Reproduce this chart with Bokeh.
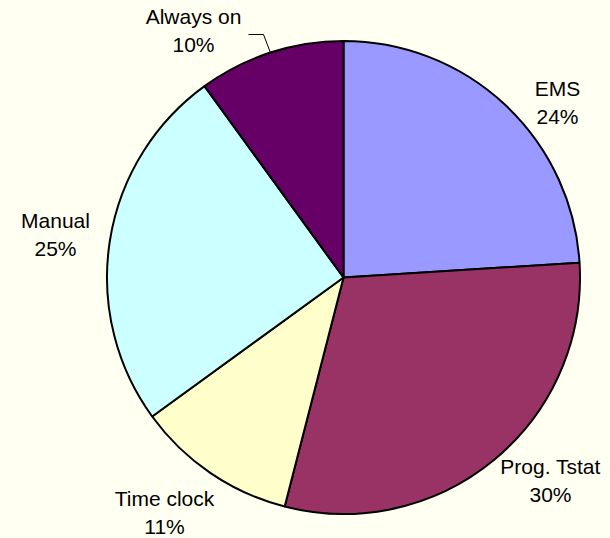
import math

from bokeh.core.properties import value
from bokeh.embed import file_html
from bokeh.models import ColumnDataSource, Range1d
from bokeh.plotting import figure
from bokeh.resources import INLINE

# Share of controls by type, clockwise from 12 o'clock
categories = ["EMS", "Prog. Tstat", "Time clock", "Manual", "Always on"]
shares = [24, 30, 11, 25, 10]
colors = ["#9999FF", "#993366", "#FFFFCC", "#CCFFFF", "#660066"]

# Label anchor points (canvas units, y measured upward)
label_x = [557, 550, 164, 55, 193]
label_y = [436, 58, 26.5, 304, 508]

W, H = 610, 538
CX, CY, R = 343, 261, 236.5

total = float(sum(shares))
starts, ends, mids = [], [], []
acc = 0.0
for s in shares:
    a0 = math.pi / 2 - 2 * math.pi * acc / total
    acc += s
    a1 = math.pi / 2 - 2 * math.pi * acc / total
    starts.append(a0)
    ends.append(a1)
    mids.append((a0 + a1) / 2)

src = ColumnDataSource(dict(
    cat=categories, share=shares, color=colors,
    start=starts, end=ends,
    pct=[f"{s}%" for s in shares],
    lx=label_x,
    ly_name=[y + 14 for y in label_y],
    ly_pct=[y - 14 for y in label_y],
))

p = figure(width=W, height=H, output_backend="svg", toolbar_location=None,
           x_range=Range1d(0, W), y_range=Range1d(0, H),
           min_border=0, outline_line_color=None,
           background_fill_color="#FFFFF2", border_fill_color="#FFFFF2")
p.axis.visible = False
p.grid.visible = False

p.wedge(x=CX, y=CY, radius=R, start_angle="start", end_angle="end",
        direction="clock", fill_color="color", line_color="black",
        line_width=2, source=src)

# Leader line for the small "Always on" slice whose label sits off to the side
i = categories.index("Always on")
ex = CX + R * math.cos(mids[i])
ey = CY + R * math.sin(mids[i])
p.line([label_x[i] + 55, label_x[i] + 70, ex], [504, 504, ey],
       line_color="black", line_width=1)

font = value("Liberation Sans")
p.text(x="lx", y="ly_name", text="cat", source=src, text_font=font,
       text_font_size="21px", text_align="center", text_baseline="alphabetic",
       text_color="black")
p.text(x="lx", y="ly_pct", text="pct", source=src, text_font=font,
       text_font_size="21px", text_align="center", text_baseline="alphabetic",
       text_color="black")

open("out.html", "w").write(file_html(p, INLINE))
